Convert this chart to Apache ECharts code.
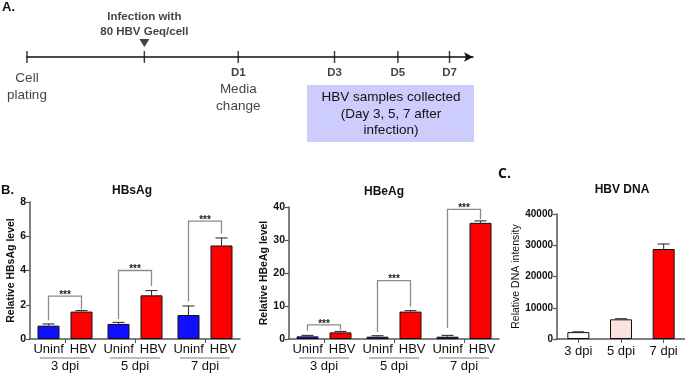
<!DOCTYPE html>
<html>
<head>
<meta charset="utf-8">
<script src="https://cdn.jsdelivr.net/npm/echarts@6/dist/echarts.min.js"></script>
<style>
  html, body { margin: 0; padding: 0; background: #fff; }
  #chart { width: 685px; height: 373px; }
</style>
</head>
<body>
<div id="chart"></div>
<script>
// --- A. timeline (schematic positions, not to scale)
const timelineLabels = ['Cell plating', 'Infection', 'D1', 'D3', 'D5', 'D7'];
const timelinePos = [0, 2.5, 4.5, 6.55, 7.9, 9.0];

// --- B. grouped bars
const dpiGroups = ['3 dpi', '5 dpi', '7 dpi'];

const hbsUninf = [0.78, 0.88, 1.4];
const hbsUninfErr = [0.1, 0.09, 0.53];
const hbsHBV = [1.6, 2.55, 5.46];
const hbsHBVErr = [0.06, 0.28, 0.44];
// [group, bracket top, left foot, right foot]
const hbsBrackets = [[0, 2.5, 1.1, 1.72], [1, 4.0, 1.17, 3.1], [2, 6.88, 2.2, 6.15]];

const hbeUninf = [0.8, 0.7, 0.7];
const hbeUninfErr = [0.3, 0.3, 0.4];
const hbeHBV = [2.0, 8.3, 35.2];
const hbeHBVErr = [0.3, 0.3, 0.6];
const hbeBrackets = [[0, 4.3, 2.5, 2.8], [1, 17.7, 2.1, 9.8], [2, 39.3, 3.3, 36.3]];

// --- C. HBV DNA
const dnaValues = [2200, 6300, 28800];
const dnaErr = [100, 200, 1600];

const FONT = '"Liberation Sans", Arial, sans-serif';
const BLUE = '#1010ff';
const RED = '#ff0000';
const dnaColors = ['#ffffff', '#fde0e0', '#ff0000'];
const BAR_W = 22;
const OFF = 16.5; // half of bar + gap

const chart = echarts.init(document.getElementById('chart'));

function errRender(params, api) {
  const base = api.coord([api.value(0), api.value(1)]);
  const top = api.coord([api.value(0), api.value(1) + api.value(2)]);
  const x = base[0] + api.value(3) * OFF;
  const st = { stroke: '#333', lineWidth: 1.1 };
  return {
    type: 'group',
    children: [
      { type: 'line', shape: { x1: x, y1: base[1], x2: x, y2: top[1] }, style: st },
      { type: 'line', shape: { x1: x - 6, y1: top[1], x2: x + 6, y2: top[1] }, style: st }
    ]
  };
}

function bracketRender(params, api) {
  const g = api.value(0);
  const top = api.coord([g, api.value(1)]);
  const lf = api.coord([g, api.value(2)]);
  const rf = api.coord([g, api.value(3)]);
  const xl = top[0] - OFF, xr = top[0] + OFF;
  return {
    type: 'group',
    children: [
      { type: 'polyline', shape: { points: [[xl, lf[1]], [xl, top[1]], [xr, top[1]], [xr, rf[1]]] },
        style: { stroke: '#8c8c8c', lineWidth: 1.3, fill: null } },
      { type: 'text', x: top[0], y: top[1] - 1,
        style: { text: '***', font: 'bold 10px ' + FONT, fill: '#222', align: 'center', verticalAlign: 'middle' } }
    ]
  };
}

function errData(vals, errs, side) {
  return vals.map((v, i) => [i, v, errs[i], side]);
}

const groupAxisLabel = {
  interval: 0,
  margin: 3,
  color: '#111',
  formatter: v => '{s|Uninf}{gap| }{s|HBV}\n{u| }\n{g|' + v + '}',
  rich: {
    s: { fontSize: 13, lineHeight: 14, color: '#111' },
    gap: { width: 6, fontSize: 13 },
    u: { width: 50, height: 1, lineHeight: 4, fontSize: 1, backgroundColor: '#7a7a7a' },
    g: { fontSize: 13, lineHeight: 13, color: '#111' }
  }
};

const axisLine = { show: true, lineStyle: { color: '#555', width: 1.5 } };
const yCommon = {
  type: 'value',
  nameLocation: 'middle',
  nameTextStyle: { fontSize: 10.5, fontWeight: 'bold', color: '#111' },
  axisLine: axisLine,
  axisTick: { show: true, length: 4, lineStyle: { color: '#555', width: 1.2 } },
  axisLabel: { fontSize: 10.5, fontWeight: 'bold', color: '#111', margin: 4 },
  splitLine: { show: false }
};

const tlRich = {
  b: { fontSize: 11.5, fontWeight: 'bold', lineHeight: 17, color: '#111' },
  r: { fontSize: 13.5, lineHeight: 17, color: '#111' }
};
const tlLabels = [
  { position: 'bottom', distance: 7, formatter: '{r|Cell}\n{r|plating}' },
  { position: 'top', distance: 12, formatter: 'Infection with\n80 HBV Geq/cell', fontSize: 11.5, lineHeight: 15, fontWeight: 'bold', color: '#111' },
  { position: 'bottom', distance: 1, formatter: '{b|D1}\n{r|Media}\n{r|change}' },
  { position: 'bottom', distance: 1, formatter: '{b|D3}' },
  { position: 'bottom', distance: 1, formatter: '{b|D5}' },
  { position: 'bottom', distance: 1, formatter: '{b|D7}' }
];

const option = {
  animation: false,
  textStyle: { fontFamily: FONT },
  grid: [
    { left: 27, top: 47, width: 446, height: 20 },
    { left: 30, top: 202, width: 210, height: 137 },
    { left: 289, top: 207, width: 210, height: 132 },
    { left: 557, top: 214, width: 130, height: 125 }
  ],
  xAxis: [
    { gridIndex: 0, type: 'value', min: 0, max: 9.5,
      axisLine: { show: true, onZero: true, symbol: ['none', 'arrow'], symbolSize: [7, 9], lineStyle: { color: '#111', width: 1.5 } },
      axisTick: { show: false }, axisLabel: { show: false }, splitLine: { show: false } },
    { gridIndex: 1, type: 'category', data: dpiGroups, axisLine: axisLine,
      axisTick: { show: true, alignWithLabel: true, length: 4, lineStyle: { color: '#555' } },
      axisLabel: groupAxisLabel },
    { gridIndex: 2, type: 'category', data: dpiGroups, axisLine: axisLine,
      axisTick: { show: true, alignWithLabel: true, length: 4, lineStyle: { color: '#555' } },
      axisLabel: groupAxisLabel },
    { gridIndex: 3, type: 'category', data: dpiGroups, axisLine: axisLine,
      axisTick: { show: true, alignWithLabel: true, length: 4, lineStyle: { color: '#555' } },
      axisLabel: { fontSize: 13, color: '#111', margin: 6 } }
  ],
  yAxis: [
    { gridIndex: 0, type: 'value', min: -1, max: 1, show: false },
    Object.assign({}, yCommon, { gridIndex: 1, min: 0, max: 8, interval: 2, name: 'Relative HBsAg level', nameGap: 13 }),
    Object.assign({}, yCommon, { gridIndex: 2, min: 0, max: 40, interval: 10, name: 'Relative HBeAg level', nameGap: 17 }),
    Object.assign({}, yCommon, { gridIndex: 3, min: 0, max: 40000, interval: 10000, name: 'Relative DNA intensity', nameGap: 33,
      nameTextStyle: { fontSize: 10.5, color: '#111' },
      axisLabel: { fontSize: 10, fontWeight: 'bold', color: '#111', margin: 4, formatter: v => String(v) } })
  ],
  series: [
    { type: 'scatter', xAxisIndex: 0, yAxisIndex: 0, symbol: 'rect', symbolSize: [1.5, 12],
      itemStyle: { color: '#111' },
      label: { show: true, rich: tlRich, fontSize: 13, color: '#111' },
      data: timelineLabels.map((n, i) => ({ name: n, value: [timelinePos[i], 0], label: tlLabels[i] })) },
    { type: 'scatter', xAxisIndex: 0, yAxisIndex: 0, symbol: 'triangle', symbolRotate: 180,
      symbolSize: [10, 8], symbolOffset: [0, -14], itemStyle: { color: '#111' },
      data: [[timelinePos[1], 0]] },

    // HBsAg
    { type: 'bar', name: 'Uninf', xAxisIndex: 1, yAxisIndex: 1, data: hbsUninf, barWidth: BAR_W, barGap: '50%',
      itemStyle: { color: BLUE, borderColor: '#111', borderWidth: 1 } },
    { type: 'bar', name: 'HBV', xAxisIndex: 1, yAxisIndex: 1, data: hbsHBV, barWidth: BAR_W, barGap: '50%',
      itemStyle: { color: RED, borderColor: '#111', borderWidth: 1 } },
    { type: 'custom', xAxisIndex: 1, yAxisIndex: 1, renderItem: errRender, z: 3,
      data: errData(hbsUninf, hbsUninfErr, -1).concat(errData(hbsHBV, hbsHBVErr, 1)) },
    { type: 'custom', xAxisIndex: 1, yAxisIndex: 1, renderItem: bracketRender, z: 3, data: hbsBrackets },

    // HBeAg
    { type: 'bar', name: 'Uninf', xAxisIndex: 2, yAxisIndex: 2, data: hbeUninf, barWidth: BAR_W, barGap: '50%',
      itemStyle: { color: BLUE, borderColor: '#111', borderWidth: 1 } },
    { type: 'bar', name: 'HBV', xAxisIndex: 2, yAxisIndex: 2, data: hbeHBV, barWidth: BAR_W, barGap: '50%',
      itemStyle: { color: RED, borderColor: '#111', borderWidth: 1 } },
    { type: 'custom', xAxisIndex: 2, yAxisIndex: 2, renderItem: errRender, z: 3,
      data: errData(hbeUninf, hbeUninfErr, -1).concat(errData(hbeHBV, hbeHBVErr, 1)) },
    { type: 'custom', xAxisIndex: 2, yAxisIndex: 2, renderItem: bracketRender, z: 3, data: hbeBrackets },

    // HBV DNA
    { type: 'bar', xAxisIndex: 3, yAxisIndex: 3, barWidth: BAR_W,
      data: dnaValues.map((v, i) => ({ value: v, itemStyle: { color: dnaColors[i] } })),
      itemStyle: { borderColor: '#111', borderWidth: 1 } },
    { type: 'custom', xAxisIndex: 3, yAxisIndex: 3, renderItem: errRender, z: 3,
      data: errData(dnaValues, dnaErr, 0) }
  ],
  graphic: [
    { type: 'text', left: 2, top: 1, style: { text: 'A.', font: 'bold 13px ' + FONT, fill: '#111' } },
    { type: 'text', left: 1, top: 184, style: { text: 'B.', font: 'bold 13px ' + FONT, fill: '#111' } },
    { type: 'text', left: 498, top: 167, style: { text: 'C.', font: 'bold 14px "Open Sans", sans-serif', fill: '#111' } },
    { type: 'text', x: 132, y: 191, style: { text: 'HBsAg', font: 'bold 12px ' + FONT, fill: '#111', align: 'center', verticalAlign: 'middle' } },
    { type: 'text', x: 384, y: 192, style: { text: 'HBeAg', font: 'bold 12px ' + FONT, fill: '#111', align: 'center', verticalAlign: 'middle' } },
    { type: 'text', x: 622, y: 190, style: { text: 'HBV DNA', font: 'bold 12px ' + FONT, fill: '#111', align: 'center', verticalAlign: 'middle' } },
    { type: 'rect', shape: { x: 307, y: 85, width: 167, height: 57 }, style: { fill: '#ccccfd' } },
    { type: 'text', x: 391, y: 114, style: { text: 'HBV samples collected\n(Day 3, 5, 7 after\ninfection)', font: '13.5px ' + FONT,
      lineHeight: 16.5, fill: '#111', align: 'center', verticalAlign: 'middle' } }
  ]
};

chart.setOption(option);
</script>
</body>
</html>
